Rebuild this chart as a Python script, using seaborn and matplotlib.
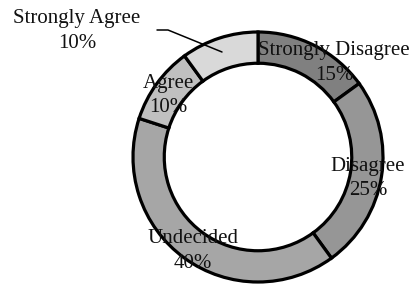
import numpy as np
import matplotlib
matplotlib.use("Agg")
import matplotlib.pyplot as plt
import seaborn as sns

# data
categories = ["Strongly Disagree", "Disagree", "Undecided", "Agree", "Strongly Agree"]
shares = [15, 25, 40, 10, 10]
grays = ["#808080", "#969696", "#a6a6a6", "#c0c0c0", "#d9d9d9"]

sns.set_theme(style="white")
plt.rcParams["font.family"] = ["Liberation Serif", "DejaVu Serif"]

W, H = 412, 288
fig = plt.figure(figsize=(W / 100, H / 100), dpi=100)
ax = fig.add_axes([0, 0, 1, 1])

cx, cy, r = 258, H - 157, 125
wedges, _ = ax.pie(shares, colors=grays, startangle=90, counterclock=False,
                   center=(cx, cy), radius=r,
                   wedgeprops=dict(width=r * 0.25, edgecolor="black", linewidth=2.3))
ax.set_xlim(0, W)
ax.set_ylim(0, H)
ax.set_aspect("equal")
ax.axis("off")

# labels at the middle of the ring, except the two Excel moved
moved = {"Strongly Disagree": (334, 63), "Strongly Agree": (77, 31)}
for w, name, val in zip(wedges, categories, shares):
    if name in moved:
        x, y = moved[name][0], H - moved[name][1]
    else:
        ang = np.deg2rad((w.theta1 + w.theta2) / 2)
        x = cx + 0.89 * r * np.cos(ang)
        y = cy + 0.89 * r * np.sin(ang) - 4
    ax.text(x, y, f"{name}\n{val}%", ha="center", va="center",
            fontsize=15, color="#111111", linespacing=1.4)

# leader line for Strongly Agree
ax.plot([157, 168, 222], [H - 30, H - 30, H - 52], color="black", lw=1.1)

fig.savefig("out.png", dpi=100)
